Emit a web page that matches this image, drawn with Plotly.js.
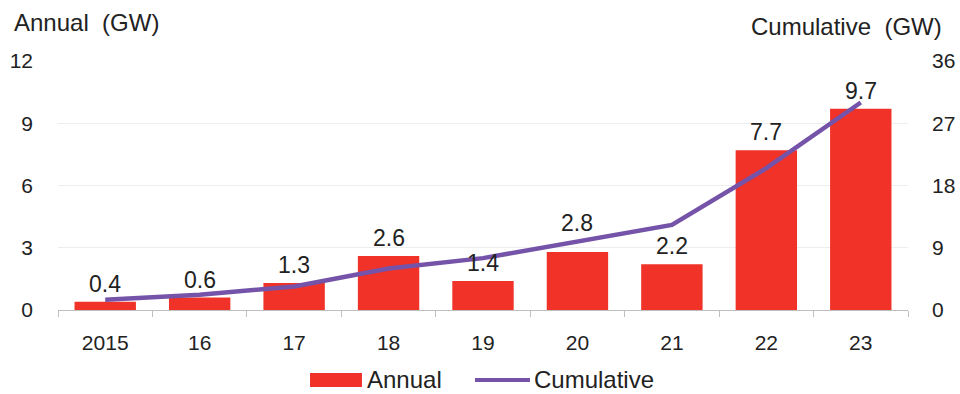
<!DOCTYPE html>
<html>
<head>
<meta charset="utf-8">
<script src="https://cdn.plot.ly/plotly-3.0.1.min.js"></script>
<style>html,body{margin:0;padding:0;background:#fff;}#chart{width:960px;height:394px;}</style>
</head>
<body>
<div id="chart"></div>
<script>
const categories = ["2015", "16", "17", "18", "19", "20", "21", "22", "23"];
const annual = [0.4, 0.6, 1.3, 2.6, 1.4, 2.8, 2.2, 7.7, 9.7];
const cumulative = [1.5, 2.2, 3.4, 6.0, 7.5, 9.9, 12.3, 20.5, 30.0];
const leftTicks = [0, 3, 6, 9, 12];
const rightTicks = [0, 9, 18, 27, 36];
const seriesNames = ["Annual", "Cumulative"];

const FONT = "Liberation Sans, Arial, sans-serif";
const BAR_COLOR = "#f03228";
const LINE_COLOR = "#7453a8";
const TXT = "#222";

const traces = [
  {
    type: "bar",
    name: seriesNames[0],
    x: categories,
    y: annual,
    marker: {color: BAR_COLOR},
    hoverinfo: "skip",
    showlegend: false
  },
  {
    type: "scatter",
    mode: "lines",
    name: seriesNames[1],
    x: categories,
    y: cumulative,
    yaxis: "y2",
    line: {color: LINE_COLOR, width: 4.5},
    hoverinfo: "skip",
    showlegend: false
  }
];

// value labels above the bars (the 2020 label sits higher, clear of the line)
// x given as the category's index on the category axis
const valueLabels = categories.map((c, i) => ({
  text: annual[i].toFixed(1),
  x: i, y: annual[i], xref: "x", yref: "y",
  xanchor: "center", yanchor: "bottom",
  yshift: c === "20" ? 14 : 3,
  showarrow: false,
  font: {family: FONT, size: 23, color: TXT}
}));

const layout = {
  width: 960,
  height: 394,
  margin: {l: 58, r: 52, t: 61, b: 84},
  paper_bgcolor: "#fff",
  plot_bgcolor: "#fff",
  font: {family: FONT, size: 21, color: TXT},
  bargap: 0.35,
  showlegend: false,
  xaxis: {
    type: "category",
    categoryorder: "array",
    categoryarray: categories,
    range: [-0.5, categories.length - 0.5],
    autorange: false,
    showline: true,
    linecolor: "#bfbfbf",
    linewidth: 1,
    ticks: "outside",
    tickson: "boundaries",
    ticklen: 6,
    tickcolor: "#bfbfbf",
    ticklabelstandoff: 14,
    tickangle: 0,
    showgrid: false,
    tickfont: {family: FONT, size: 21, color: TXT}
  },
  yaxis: {
    range: [0, 12],
    autorange: false,
    tickvals: leftTicks,
    ticktext: leftTicks.map(String),
    showgrid: true,
    gridcolor: "#eeeeee",
    gridwidth: 1,
    zeroline: false,
    showline: false,
    ticks: "",
    ticklabelstandoff: 24,
    tickfont: {family: FONT, size: 21, color: TXT}
  },
  yaxis2: {
    overlaying: "y",
    side: "right",
    range: [0, 36],
    autorange: false,
    tickvals: rightTicks,
    ticktext: rightTicks.map(String),
    showgrid: false,
    zeroline: false,
    showline: false,
    ticks: "",
    ticklabelstandoff: 23,
    tickfont: {family: FONT, size: 21, color: TXT}
  },
  shapes: [
    {type: "rect", xref: "paper", yref: "paper", x0: 0.2965, x1: 0.3576, y0: -0.253, y1: -0.309, fillcolor: BAR_COLOR, line: {width: 0}},
    {type: "line", xref: "paper", yref: "paper", x0: 0.4906, x1: 0.5553, y0: -0.281, y1: -0.281, line: {color: LINE_COLOR, width: 4}}
  ],
  annotations: [
    {text: "Annual\u00a0\u00a0(GW)", xref: "paper", yref: "paper", x: -0.054, y: 1.153, xanchor: "left", yanchor: "middle", showarrow: false, font: {family: FONT, size: 24, color: TXT}},
    {text: "Cumulative\u00a0\u00a0(GW)", xref: "paper", yref: "paper", x: 1.042, y: 1.137, xanchor: "right", yanchor: "middle", showarrow: false, font: {family: FONT, size: 24, color: TXT}},
    {text: seriesNames[0], xref: "paper", yref: "paper", x: 0.361, y: -0.281, xanchor: "left", yanchor: "middle", showarrow: false, font: {family: FONT, size: 24, color: TXT}},
    {text: seriesNames[1], xref: "paper", yref: "paper", x: 0.558, y: -0.281, xanchor: "left", yanchor: "middle", showarrow: false, font: {family: FONT, size: 24, color: TXT}}
  ].concat(valueLabels)
};

Plotly.newPlot("chart", traces, layout, {displayModeBar: false, staticPlot: true});
</script>
</body>
</html>
